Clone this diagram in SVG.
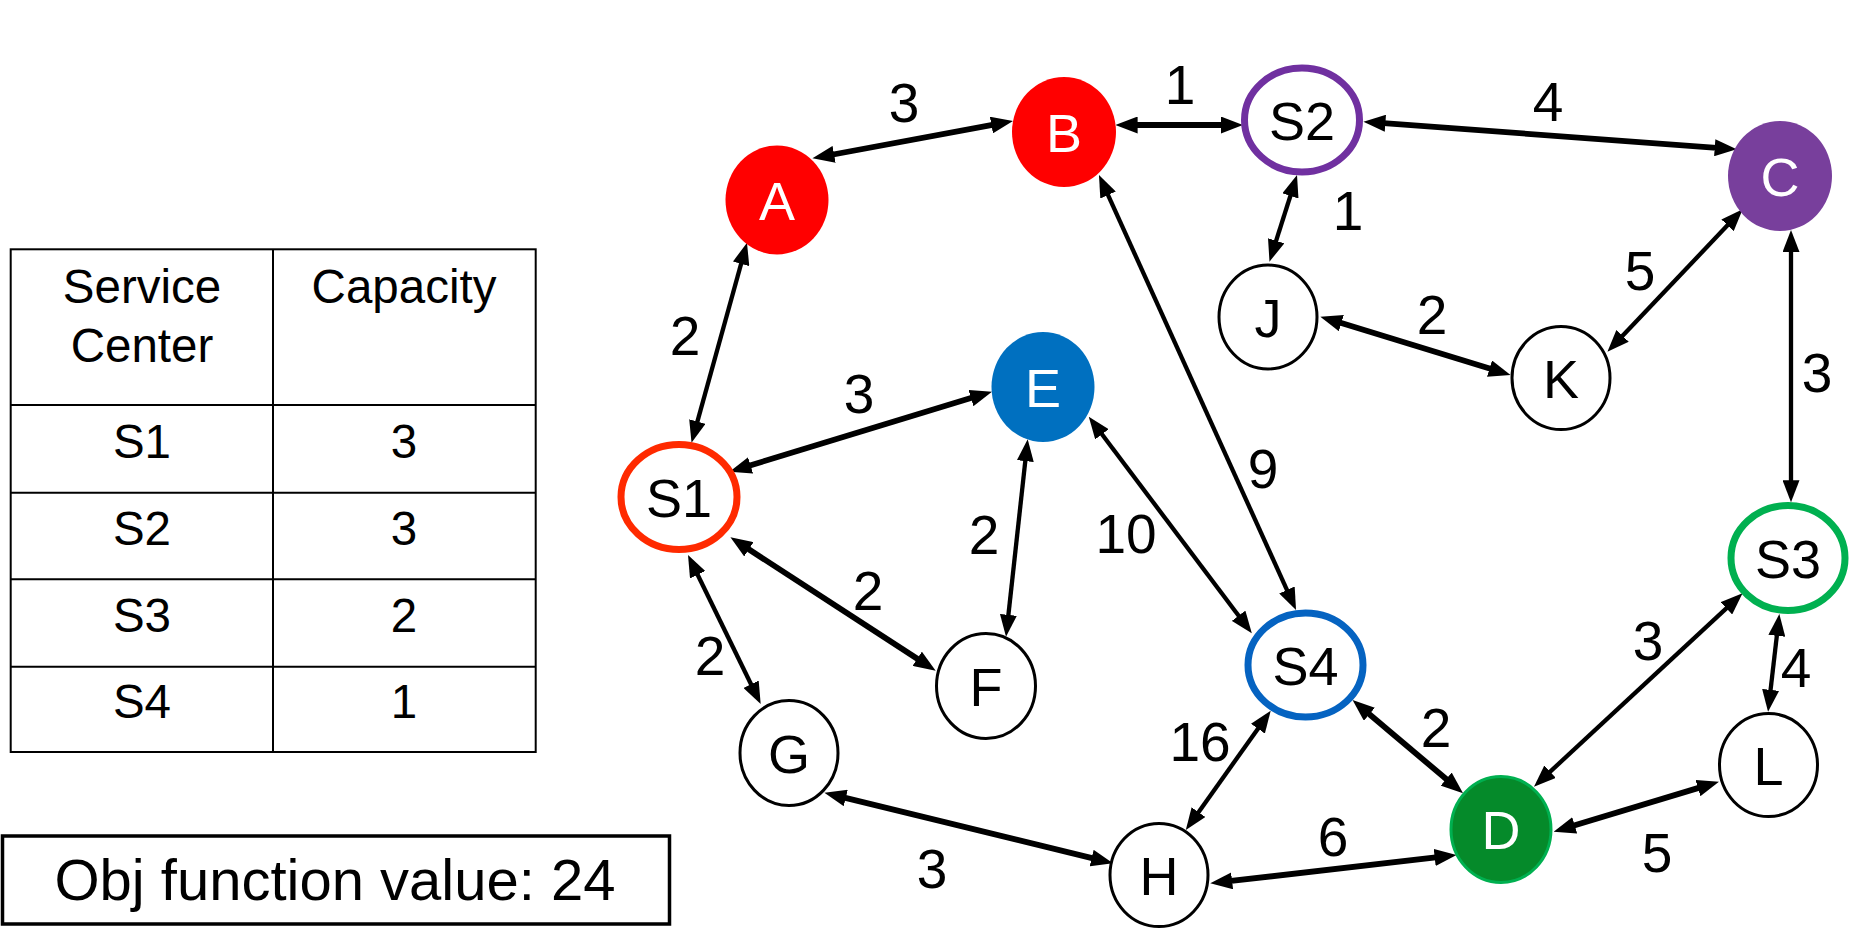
<svg xmlns="http://www.w3.org/2000/svg" width="1869" height="952" viewBox="0 0 1869 952">
<style>
text{font-family:"Liberation Sans",Arial,Helvetica,sans-serif;text-anchor:middle;fill:#000}
.nl{font-size:54px}
.wt{fill:#fff}
.el{font-size:55px}
.tt{font-size:47.5px}
.wn{fill:#fff;stroke:#000;stroke-width:3}
.sn{fill:#fff;stroke-width:7}
.e{stroke:#000;stroke-width:4.3;fill:none;marker-start:url(#ah);marker-end:url(#ah)}
.t{stroke-width:5.8}
.grid{stroke:#000;stroke-width:2;fill:none}
</style>
<defs>
<marker id="ah" viewBox="0 0 22 17" refX="12" refY="8.5" markerWidth="22" markerHeight="17" markerUnits="userSpaceOnUse" orient="auto-start-reverse">
<path d="M0,0 L22,8.5 L0,17 z" fill="#000"/>
</marker>
</defs>
<rect width="1869" height="952" fill="#fff"/>

<g id="connectors">
<line class="e t" x1="822.3" y1="156.5" x2="1003.2" y2="122.8"/>
<line class="e t" x1="1125.6" y1="125" x2="1232.9" y2="125"/>
<line class="e t" x1="1373.4" y1="122.4" x2="1726.7" y2="148.6"/>
<line class="e" x1="1294" y1="184.5" x2="1272.5" y2="252.2"/>
<line class="e t" x1="1329.9" y1="319.6" x2="1501" y2="372.1"/>
<line class="e" x1="1614.3" y1="344.5" x2="1735.8" y2="216.6"/>
<line class="e" x1="1791" y1="240" x2="1791" y2="492.3"/>
<line class="e" x1="744.3" y1="252.3" x2="694.2" y2="433.1"/>
<line class="e" x1="1103.1" y1="184.1" x2="1291.9" y2="600.9"/>
<line class="e t" x1="739.1" y1="468.8" x2="982.4" y2="394.6"/>
<line class="e" x1="1026.6" y1="449.2" x2="1007.1" y2="626.8"/>
<line class="e" x1="1094.8" y1="424.7" x2="1245.8" y2="625.3"/>
<line class="e t" x1="738.8" y1="542.8" x2="927.3" y2="665.3"/>
<line class="e" x1="692.4" y1="564" x2="756.3" y2="695"/>
<line class="e" x1="1264.9" y1="718.9" x2="1191.6" y2="821.9"/>
<line class="e t" x1="1360.2" y1="706.5" x2="1455.4" y2="786.8"/>
<line class="e" x1="1541.3" y1="779.9" x2="1735.2" y2="600.1"/>
<line class="e" x1="1778.2" y1="623.9" x2="1769.2" y2="701.8"/>
<line class="e t" x1="1220.2" y1="882.2" x2="1446.6" y2="856.1"/>
<line class="e t" x1="1563.2" y1="828.8" x2="1709.4" y2="784.6"/>
<line class="e t" x1="834.1" y1="795.1" x2="1103.3" y2="860.9"/>
</g>

<g id="edge-labels">
<text class="el" x="904" y="122">3</text>
<text class="el" x="1180" y="104">1</text>
<text class="el" x="1548" y="121">4</text>
<text class="el" x="1348" y="230">1</text>
<text class="el" x="1640" y="290">5</text>
<text class="el" x="1432" y="334">2</text>
<text class="el" x="1817" y="392">3</text>
<text class="el" x="685" y="355">2</text>
<text class="el" x="859" y="413">3</text>
<text class="el" x="1263" y="488">9</text>
<text class="el" x="984" y="554">2</text>
<text class="el" x="1126" y="553">10</text>
<text class="el" x="868" y="610">2</text>
<text class="el" x="710" y="675">2</text>
<text class="el" x="1200" y="761">16</text>
<text class="el" x="1436" y="747">2</text>
<text class="el" x="1648" y="660">3</text>
<text class="el" x="1796" y="687">4</text>
<text class="el" x="1333" y="856">6</text>
<text class="el" x="1657" y="872">5</text>
<text class="el" x="932" y="888">3</text>
</g>

<g id="node-A"><ellipse cx="777" cy="200" rx="51.5" ry="54.5" fill="#ff0000"/><text class="nl wt" x="777" y="219.5">A</text></g>
<g id="node-B"><ellipse cx="1064" cy="132" rx="52" ry="55" fill="#ff0000"/><text class="nl wt" x="1064" y="151.5">B</text></g>
<g id="node-S2"><ellipse class="sn" cx="1302" cy="120" rx="57.5" ry="52" stroke="#7030a0"/><text class="nl" x="1302" y="139.5">S2</text></g>
<g id="node-C"><ellipse cx="1780" cy="176" rx="52" ry="55" fill="#783f9c"/><text class="nl wt" x="1780" y="195.5">C</text></g>
<g id="node-J"><ellipse class="wn" cx="1268" cy="317" rx="49" ry="52"/><text class="nl" x="1268" y="336.5">J</text></g>
<g id="node-K"><ellipse class="wn" cx="1561" cy="378" rx="49" ry="51.5"/><text class="nl" x="1561" y="397.5">K</text></g>
<g id="node-E"><ellipse cx="1043" cy="387" rx="51.5" ry="55" fill="#0070c0"/><text class="nl wt" x="1043" y="406.5">E</text></g>
<g id="node-S1"><ellipse class="sn" cx="679" cy="497" rx="58" ry="52.5" stroke="#ff2a00"/><text class="nl" x="679" y="516.5">S1</text></g>
<g id="node-F"><ellipse class="wn" cx="986" cy="686" rx="49.5" ry="52.5"/><text class="nl" x="986" y="705.5">F</text></g>
<g id="node-G"><ellipse class="wn" cx="789" cy="753" rx="49" ry="52.5"/><text class="nl" x="789" y="772.5">G</text></g>
<g id="node-S4"><ellipse class="sn" cx="1305.5" cy="665" rx="57.5" ry="52" stroke="#0563c1"/><text class="nl" x="1305.5" y="684.5">S4</text></g>
<g id="node-S3"><ellipse class="sn" cx="1788" cy="558" rx="57" ry="52.5" stroke="#00b050"/><text class="nl" x="1788" y="577.5">S3</text></g>
<g id="node-D"><ellipse cx="1501" cy="829.5" rx="50" ry="53" fill="#058a2a" stroke="#00b050" stroke-width="3"/><text class="nl wt" x="1501" y="849">D</text></g>
<g id="node-L"><ellipse class="wn" cx="1768.5" cy="765" rx="49" ry="51.5"/><text class="nl" x="1768.5" y="784.5">L</text></g>
<g id="node-H"><ellipse class="wn" cx="1159" cy="875" rx="49" ry="51.5"/><text class="nl" x="1159" y="894.5">H</text></g>

<g id="table">
<rect class="grid" x="10.7" y="249.3" width="525" height="502.7"/>
<line class="grid" x1="273" y1="249.3" x2="273" y2="752"/>
<line class="grid" x1="10.7" y1="405" x2="535.7" y2="405"/>
<line class="grid" x1="10.7" y1="492.7" x2="535.7" y2="492.7"/>
<line class="grid" x1="10.7" y1="579.3" x2="535.7" y2="579.3"/>
<line class="grid" x1="10.7" y1="666.7" x2="535.7" y2="666.7"/>
<text class="tt" x="142" y="303">Service</text>
<text class="tt" x="142" y="362">Center</text>
<text class="tt" x="404" y="303">Capacity</text>
<text class="tt" x="142" y="458">S1</text><text class="tt" x="404" y="458">3</text>
<text class="tt" x="142" y="545">S2</text><text class="tt" x="404" y="545">3</text>
<text class="tt" x="142" y="632">S3</text><text class="tt" x="404" y="632">2</text>
<text class="tt" x="142" y="718">S4</text><text class="tt" x="404" y="718">1</text>
</g>

<g id="objective">
<rect x="2.5" y="836" width="667" height="88" fill="none" stroke="#000" stroke-width="3.5"/>
<text x="335" y="900" font-size="58">Obj function value: 24</text>
</g>
</svg>
